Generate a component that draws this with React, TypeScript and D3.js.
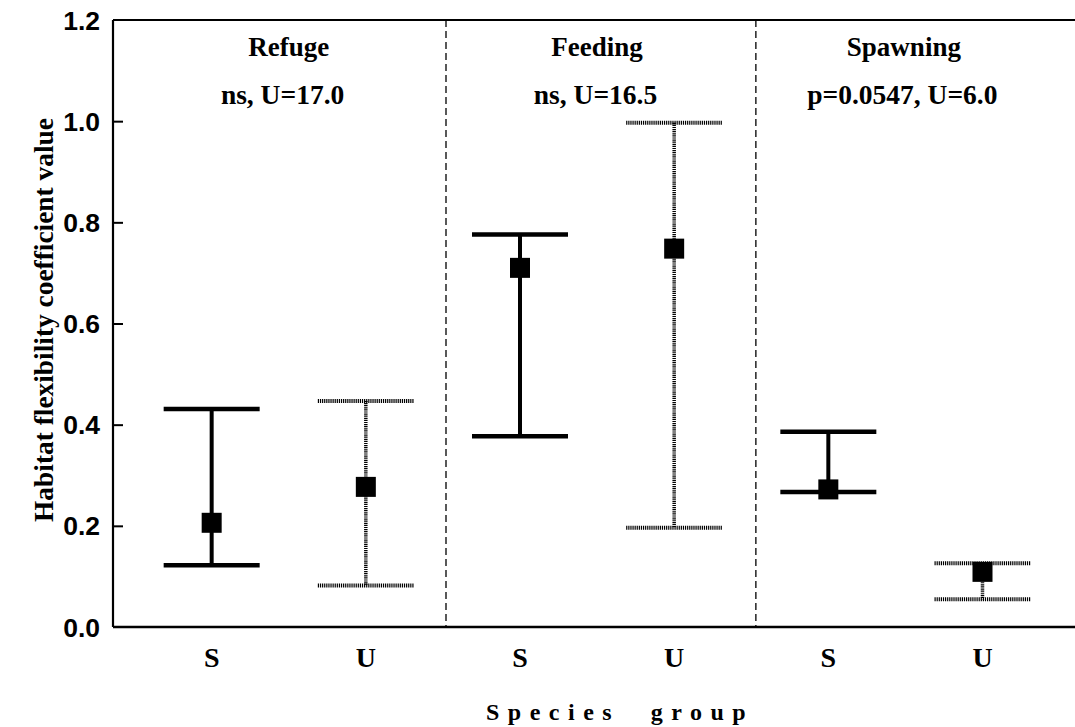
import React, { useEffect, useRef } from 'react';
import * as d3 from 'd3';

// habitat use categories and species groups
const habitats = ['Refuge', 'Feeding', 'Spawning'];
const statLabels = ['ns, U=17.0', 'ns, U=16.5', 'p=0.0547, U=6.0'];
const groups = ['S', 'U', 'S', 'U', 'S', 'U'];

// per-bar values
const means = [0.206, 0.277, 0.71, 0.748, 0.272, 0.109];
const upper = [0.431, 0.447, 0.776, 0.997, 0.386, 0.126];
const lower = [0.122, 0.082, 0.377, 0.196, 0.267, 0.055];

const yTicks = [0, 0.2, 0.4, 0.6, 0.8, 1.0, 1.2];

const W = 1075;
const H = 727;

export default function App() {
  const svgRef = useRef<SVGSVGElement>(null);

  useEffect(() => {
    if (!svgRef.current) return;
    const svg = d3.select(svgRef.current);
    svg.selectAll('*').remove();

    const left = 113, right = 1075, top = 20, bottom = 627;

    const x = d3.scaleLinear().domain([-0.64, 5.6]).range([left, right]);
    const y = d3.scaleLinear().domain([0, 1.2]).range([bottom, top]);

    const serif = '"Liberation Serif", "Times New Roman", serif';
    const sans = '"Liberation Sans", Arial, sans-serif';

    // frame: left axis, top & bottom lines
    svg.append('line')
      .attr('x1', left).attr('x2', left).attr('y1', top).attr('y2', bottom)
      .attr('stroke', '#000').attr('stroke-width', 2.2);
    svg.append('line')
      .attr('x1', left).attr('x2', right).attr('y1', top).attr('y2', top)
      .attr('stroke', '#000').attr('stroke-width', 2);
    svg.append('line')
      .attr('x1', left).attr('x2', right).attr('y1', bottom).attr('y2', bottom)
      .attr('stroke', '#000').attr('stroke-width', 2.5);

    // y ticks (inward) + labels
    const yAxis = d3.axisRight(y).tickValues(yTicks).tickSize(10).tickFormat(() => '');
    const ya = svg.append('g').attr('transform', `translate(${left},0)`).call(yAxis);
    ya.select('.domain').remove();
    ya.selectAll('line').attr('stroke', '#000').attr('stroke-width', 2);
    ya.selectAll('.tick').filter((d: any) => d === 0 || d === 1.2).remove();

    svg.append('g').selectAll('text')
      .data(yTicks)
      .join('text')
      .attr('x', 100)
      .attr('y', d => y(d))
      .attr('dy', '0.36em')
      .attr('text-anchor', 'end')
      .attr('font-family', sans)
      .attr('font-weight', 'bold')
      .attr('font-size', 26.5)
      .text(d => d.toFixed(1));

    // dashed dividers between habitats
    svg.append('g').selectAll('line')
      .data([1.52, 3.53])
      .join('line')
      .attr('x1', d => x(d)).attr('x2', d => x(d))
      .attr('y1', top).attr('y2', bottom)
      .attr('stroke', '#000').attr('stroke-width', 1.3)
      .attr('stroke-dasharray', '7,4');

    // panel titles
    const titleX = [0.5, 2.5, 4.49];
    const statX = [0.46, 2.49, 4.48];
    svg.append('g').selectAll('text')
      .data(habitats)
      .join('text')
      .attr('x', (d, i) => x(titleX[i]))
      .attr('y', 56)
      .attr('text-anchor', 'middle')
      .attr('font-family', serif)
      .attr('font-weight', 'bold')
      .attr('font-size', 27)
      .text(d => d);
    svg.append('g').selectAll('text')
      .data(statLabels)
      .join('text')
      .attr('x', (d, i) => x(statX[i]))
      .attr('y', 104)
      .attr('text-anchor', 'middle')
      .attr('font-family', serif)
      .attr('font-weight', 'bold')
      .attr('font-size', 27.5)
      .text(d => d);

    // error bars
    const capHalf = 48;
    const bars = svg.append('g').selectAll('g')
      .data(groups.map((g, i) => ({ g, i })))
      .join('g');

    const styleLine = (sel: any, isCap: boolean) => sel
      .attr('stroke', '#000')
      .attr('stroke-width', (d: any) => d.g === 'S' ? (isCap ? 4.5 : 4) : (isCap ? 4 : 3.5))
      .attr('stroke-dasharray', (d: any) => d.g === 'S' ? null : '1.2,0.9');

    bars.append('line')
      .attr('x1', d => x(d.i)).attr('x2', d => x(d.i))
      .attr('y1', d => y(upper[d.i])).attr('y2', d => y(lower[d.i]))
      .call(styleLine, false);
    bars.append('line')
      .attr('x1', d => x(d.i) - capHalf).attr('x2', d => x(d.i) + capHalf)
      .attr('y1', d => y(upper[d.i])).attr('y2', d => y(upper[d.i]))
      .call(styleLine, true);
    bars.append('line')
      .attr('x1', d => x(d.i) - capHalf).attr('x2', d => x(d.i) + capHalf)
      .attr('y1', d => y(lower[d.i])).attr('y2', d => y(lower[d.i]))
      .call(styleLine, true);
    bars.append('rect')
      .attr('x', d => x(d.i) - 10).attr('y', d => y(means[d.i]) - 10)
      .attr('width', 20).attr('height', 20)
      .attr('fill', '#000');

    // category labels
    svg.append('g').selectAll('text')
      .data(groups)
      .join('text')
      .attr('x', (d, i) => x(i))
      .attr('y', 667)
      .attr('text-anchor', 'middle')
      .attr('font-family', serif)
      .attr('font-weight', 'bold')
      .attr('font-size', 28)
      .text(d => d);

    // axis titles
    svg.append('text')
      .attr('x', 486)
      .attr('y', 720)
      .attr('text-anchor', 'start')
      .attr('font-family', serif)
      .attr('font-weight', 'bold')
      .attr('font-size', 24)
      .attr('letter-spacing', 8.5)
      .attr('word-spacing', 16)
      .text('Species group');

    svg.append('text')
      .attr('transform', `translate(53,${320}) rotate(-90)`)
      .attr('text-anchor', 'middle')
      .attr('font-family', serif)
      .attr('font-weight', 'bold')
      .attr('font-size', 27.4)
      .text('Habitat flexibility coefficient value');
  }, []);

  return (
    <svg
      ref={svgRef}
      width={W}
      height={H}
      style={{ position: 'absolute', left: 0, top: 0, background: '#fff' }}
    />
  );
}
